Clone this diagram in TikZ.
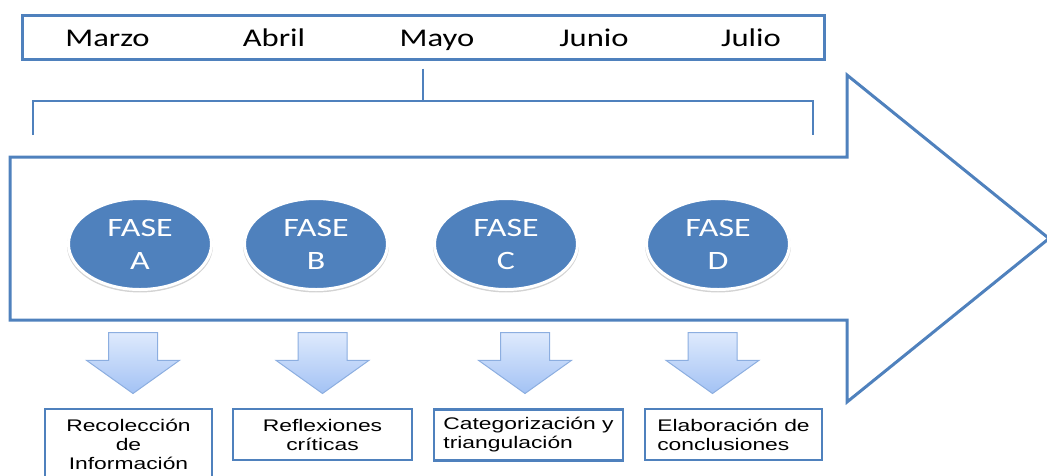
\documentclass[tikz,border=0pt]{standalone}
\usepackage{fontspec}
\setmainfont{Liberation Sans}[FakeStretch=1.36]
\newfontfamily\calibri{Carlito}[FakeStretch=1.28]
\usetikzlibrary{shapes.geometric,shapes.arrows,shadows}
\definecolor{azul}{RGB}{79,129,189}
\definecolor{azulclaro}{RGB}{222,234,253}
\definecolor{azulmedio}{RGB}{163,194,244}
\definecolor{bordeflecha}{RGB}{140,174,224}

\begin{document}
\begin{tikzpicture}[x=1pt, y=-1pt,
  mes/.style={anchor=base, font=\calibri\fontsize{25.5}{30}\selectfont},
  fase/.style={ellipse, fill=azul, draw=white, line width=3pt, minimum width=143pt, minimum height=91pt,
    text=white, align=center, font=\calibri\fontsize{26.5}{33}\selectfont,
    drop shadow={shadow xshift=0pt, shadow yshift=-2pt, shadow scale=1.02, opacity=0.35}},
  bajada/.style={single arrow, shape border rotate=270, single arrow head extend=22pt, single arrow tip angle=109,
    minimum width=92pt, minimum height=61pt, inner xsep=24pt, inner ysep=0pt, top color=azulclaro,
    bottom color=azulmedio, draw=bordeflecha, line width=1pt},
  caja/.style={draw=azul, line width=2.5pt, minimum height=51pt, font=\fontsize{16.8}{19}\selectfont}]
\useasboundingbox (0,0) rectangle (1047,475);
\clip (0,0) rectangle (1047,475);

% meses
\node[draw=azul, line width=3pt, minimum width=802pt, minimum height=44pt] (meses) at (423,37) {};
\node[mes] (marzo) at (107.5,46) {Marzo};
\node[mes] (abril) at (274,46) {Abril};
\node[mes] (mayo) at (437,46) {Mayo};
\node[mes] (junio) at (594,46) {Junio};
\node[mes] (julio) at (751,46) {Julio};

% llave
\coordinate (llave) at (423,101);
\coordinate (izq) at (33,135);
\coordinate (der) at (813,135);
\draw[azul, line width=1.5pt] ([yshift=-8pt]meses.south) -- (llave);
\draw[azul, line width=1.5pt] (izq) |- (llave) -| (der);

% flecha grande
\draw[azul, line width=3pt] (10,157) -- (847,157) -- (847,75) -- (1049,238.5) -- (847,402) -- (847,320) -- (10,320) -- cycle;

% fases
\node[fase] (faseA) at (140,244) {FASE\\A};
\node[fase] (faseB) at (316,244) {FASE\\B};
\node[fase] (faseC) at (506,244) {FASE\\C};
\node[fase] (faseD) at (718,244) {FASE\\D};

% flechas hacia abajo
\node[bajada, anchor=tail] (flechaA) at (133,332) {};
\node[bajada, anchor=tail] (flechaB) at (322.5,332) {};
\node[bajada, anchor=tail] (flechaC) at (525,332) {};
\node[bajada, anchor=tail] (flechaD) at (712.5,332) {};

% cajas
\node[caja, minimum width=167pt, minimum height=71pt, align=center] (recoleccion) at (128.5,444.5) {Recolección\\de\\Información};
\node[caja, minimum width=179pt, align=center] (reflexiones) at (322.5,434.5) {Reflexiones\\críticas};
\node[caja, minimum width=189pt, align=left] (categorizacion) at (528.5,435) {Categorización y\\triangulación};
\node[caja, minimum width=177pt, align=left] (elaboracion) at (733.5,434.5) {Elaboración de\\conclusiones};
\end{tikzpicture}
\end{document}
